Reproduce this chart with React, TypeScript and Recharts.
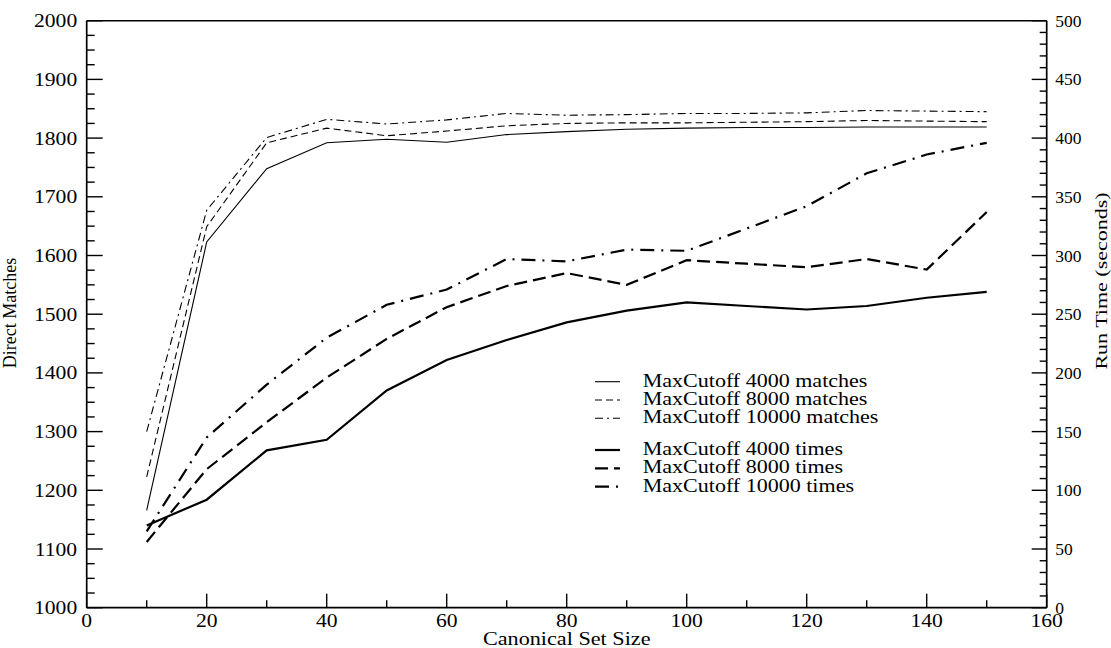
import { Label, Legend, Line, LineChart, ReferenceLine, XAxis, YAxis } from "recharts"

const sizes = [10, 20, 30, 40, 50, 60, 70, 80, 90, 100, 110, 120, 130, 140, 150]

const matches4000 = [1166, 1623, 1748, 1792, 1798, 1793, 1806, 1811, 1815, 1817, 1818, 1818, 1819, 1819, 1819]
const matches8000 = [1223, 1649, 1792, 1817, 1804, 1812, 1821, 1825, 1826, 1826, 1827, 1828, 1830, 1829, 1828]
const matches10000 = [1300, 1677, 1801, 1832, 1824, 1831, 1842, 1839, 1840, 1842, 1842, 1843, 1847, 1846, 1845]

const times4000 = [70, 92, 134, 143, 185, 211, 228, 243, 253, 260, 257, 254, 257, 264, 269]
const times8000 = [56, 118, 158, 196, 229, 256, 274, 285, 275, 296, 293, 290, 297, 288, 337]
const times10000 = [65, 145, 190, 230, 258, 271, 297, 295, 305, 304, 323, 342, 370, 386, 396]

// tick positions (majors get labels, the rest are minor marks)
const xTicks = [0, 10, 20, 30, 40, 50, 60, 70, 80, 90, 100, 110, 120, 130, 140, 150, 160]
const leftTicks = Array.from({ length: 41 }, (_, i) => 1000 + i * 25)
const rightTicks = Array.from({ length: 51 }, (_, i) => i * 10)

const data = sizes.map((size, i) => ({
  size,
  m4000: matches4000[i],
  m8000: matches8000[i],
  m10000: matches10000[i],
  t4000: times4000[i],
  t8000: times8000[i],
  t10000: times10000[i],
}))

const series = [
  { key: "m4000", axis: "left", name: "MaxCutoff 4000 matches", width: 1.1, dash: undefined },
  { key: "m8000", axis: "left", name: "MaxCutoff 8000 matches", width: 1.1, dash: "7 4" },
  { key: "m10000", axis: "left", name: "MaxCutoff 10000 matches", width: 1.1, dash: "8 4 2 4" },
  { key: "t4000", axis: "right", name: "MaxCutoff 4000 times", width: 2.2, dash: undefined },
  { key: "t8000", axis: "right", name: "MaxCutoff 8000 times", width: 2.2, dash: "13 6" },
  { key: "t10000", axis: "right", name: "MaxCutoff 10000 times", width: 2.2, dash: "14 7 2 7" },
]

const FONT = "'Liberation Serif', 'Times New Roman', serif"
const STRETCH = 1.17

function LeftTick({ x, y, payload }: any) {
  const v = payload.value
  const major = v % 100 === 0
  return (
    <g>
      <line x1={x} x2={x + (major ? 16 : 8)} y1={y} y2={y} stroke="#000" strokeWidth={1.4} />
      {major && (
        <text transform={`translate(${x - 9.5},${y + 6.5}) scale(${STRETCH},1)`} textAnchor="end" fontFamily={FONT} fontSize={18.5} fill="#000">
          {v}
        </text>
      )}
    </g>
  )
}

function RightTick({ x, y, payload }: any) {
  const v = payload.value
  const major = v % 50 === 0
  return (
    <g>
      <line x1={x} x2={x - (major ? 15 : 7)} y1={y} y2={y} stroke="#000" strokeWidth={1.4} />
      {major && (
        <text x={x + 8.5} y={y + 6} textAnchor="start" fontFamily={FONT} fontSize={17.5} fill="#000">
          {v}
        </text>
      )}
    </g>
  )
}

function BottomTick({ x, y, payload }: any) {
  const v = payload.value
  const major = v % 20 === 0
  return (
    <g>
      <line x1={x} x2={x} y1={y} y2={y - (major ? 14 : 7.5)} stroke="#000" strokeWidth={1.4} />
      {major && (
        <text transform={`translate(${x},${y + 19.5}) scale(${STRETCH},1)`} textAnchor="middle" fontFamily={FONT} fontSize={18.5} fill="#000">
          {v}
        </text>
      )}
    </g>
  )
}

const legendBaselines = [16.7, 35, 53.3, 85, 103.3, 121.7]

function LegendBox() {
  return (
    <svg width={340} height={130} style={{ display: "block" }}>
      {series.map((s, i) => (
        <g key={s.key}>
          <line x1={25} x2={50} y1={legendBaselines[i] - 5} y2={legendBaselines[i] - 5} stroke="#000" strokeWidth={s.width} strokeDasharray={s.dash} />
          <text transform={`translate(72.7,${legendBaselines[i]}) scale(1.16,1)`} fontFamily={FONT} fontSize={19} fill="#000">
            {s.name}
          </text>
        </g>
      ))}
    </svg>
  )
}

export default function App() {
  return (
    <div style={{ position: "absolute", left: 0, top: 0, width: 1111, height: 648, background: "#fff" }}>
      <LineChart width={1111} height={648} data={data} margin={{ top: 20.7, right: 0, bottom: 0, left: 0 }}>
        <XAxis
          dataKey="size"
          type="number"
          domain={[0, 160]}
          ticks={xTicks}
          interval={0}
          height={40.3}
          tickSize={0}
          tickMargin={0}
          tickLine={false}
          axisLine={{ stroke: "#000", strokeWidth: 1.7 }}
          tick={<BottomTick />}
        >
          <Label
            content={() => (
              <text transform="translate(566.7,645) scale(1.2,1)" textAnchor="middle" fontFamily={FONT} fontSize={18.5} fill="#000">
                Canonical Set Size
              </text>
            )}
          />
        </XAxis>
        <YAxis
          yAxisId="left"
          type="number"
          domain={[1000, 2000]}
          ticks={leftTicks}
          interval={0}
          width={86.7}
          tickSize={0}
          tickMargin={0}
          tickLine={false}
          axisLine={{ stroke: "#000", strokeWidth: 1.7 }}
          tick={<LeftTick />}
        >
          <Label
            content={() => (
              <text transform="translate(15.5,313) rotate(-90)" textAnchor="middle" fontFamily={FONT} fontSize={18} fill="#000">
                Direct Matches
              </text>
            )}
          />
        </YAxis>
        <YAxis
          yAxisId="right"
          orientation="right"
          type="number"
          domain={[0, 500]}
          ticks={rightTicks}
          interval={0}
          width={64.3}
          tickSize={0}
          tickMargin={0}
          tickLine={false}
          axisLine={{ stroke: "#000", strokeWidth: 1.7 }}
          tick={<RightTick />}
        >
          <Label
            content={() => (
              <text transform="translate(1107,281) rotate(-90) scale(1,0.75)" textAnchor="middle" fontFamily={FONT} fontSize={22} fill="#000">
                Run Time (seconds)
              </text>
            )}
          />
        </YAxis>
        <ReferenceLine yAxisId="left" y={2000} stroke="#000" strokeWidth={1.5} />
        <Legend layout="vertical" align="center" verticalAlign="middle" wrapperStyle={{ left: 570, top: 370, width: 340, height: 130 }} content={() => <LegendBox />} />
        {series.map((s) => (
          <Line
            key={s.key}
            yAxisId={s.axis}
            dataKey={s.key}
            name={s.name}
            type="linear"
            stroke="#000"
            strokeWidth={s.width}
            strokeDasharray={s.dash}
            dot={false}
            activeDot={false}
            isAnimationActive={false}
          />
        ))}
      </LineChart>
    </div>
  )
}
